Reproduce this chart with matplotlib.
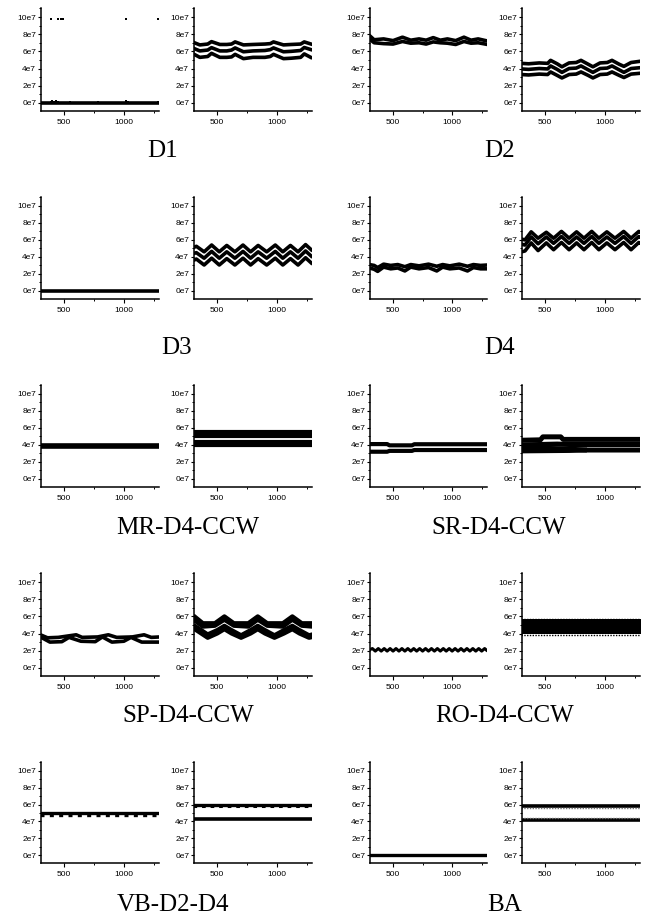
import numpy as np
import matplotlib.pyplot as plt
from matplotlib.ticker import MultipleLocator, FuncFormatter

# values are in units of 1e7 at the listed x positions

# ---- D1 ----
D1_L_X = [300, 1300]
D1_L_Y = [0.0, 0.0]
D1_L_DOT_X = [393, 444, 469, 486, 1020, 1283]
D1_L_DOT_Y = [9.8, 9.8, 9.8, 9.8, 9.8, 9.8]
D1_L_LOW_X = [385, 400, 415, 430, 450, 545, 780, 1020, 1035, 1290]
D1_L_LOW_Y = [0.15, 0.2, 0.15, 0.2, 0.15, 0.12, 0.12, 0.2, 0.15, 0.15]
D1_R_X = [300, 354, 420, 452, 522, 580, 620, 650, 720, 800, 900, 945, 972, 1056, 1120, 1200, 1230, 1298]
D1_R_TOP = [7.05, 6.75, 6.85, 7.13, 6.8, 6.8, 6.85, 7.1, 6.75, 6.8, 6.85, 6.9, 7.1, 6.75, 6.8, 6.85, 7.1, 6.8]
D1_R_MID = [6.36, 6.05, 6.15, 6.43, 6.05, 6.05, 6.15, 6.4, 5.95, 6.05, 6.1, 6.2, 6.4, 5.95, 6.0, 6.1, 6.45, 6.15]
D1_R_BOT = [5.7, 5.3, 5.4, 5.77, 5.3, 5.3, 5.35, 5.65, 5.15, 5.3, 5.3, 5.4, 5.65, 5.15, 5.2, 5.3, 5.7, 5.2]

# ---- D2 ----
D2_L_X = [300, 340, 420, 500, 580, 650, 720, 780, 840, 900, 960, 1030, 1100, 1160, 1220, 1300]
D2_L_TOP = [7.85, 7.35, 7.45, 7.25, 7.65, 7.3, 7.45, 7.3, 7.6, 7.3, 7.45, 7.25, 7.65, 7.3, 7.45, 7.2]
D2_L_BOT = [7.45, 7.0, 6.9, 6.85, 7.15, 6.95, 7.0, 6.85, 7.1, 7.0, 6.95, 6.8, 7.15, 6.95, 7.0, 6.8]
D2_R_X = [300, 360, 450, 520, 545, 600, 640, 700, 760, 800, 860, 900, 960, 1020, 1060, 1120, 1160, 1220, 1300]
D2_R_TOP = [4.6, 4.55, 4.65, 4.6, 4.95, 4.55, 4.2, 4.65, 4.7, 4.95, 4.5, 4.2, 4.65, 4.7, 4.95, 4.5, 4.25, 4.7, 4.85]
D2_R_MID = [3.95, 3.9, 4.0, 3.95, 4.3, 3.9, 3.55, 4.0, 4.05, 4.3, 3.85, 3.55, 4.0, 4.05, 4.3, 3.85, 3.55, 4.0, 4.1]
D2_R_BOT = [3.3, 3.25, 3.35, 3.3, 3.6, 3.2, 2.9, 3.3, 3.35, 3.6, 3.2, 2.9, 3.3, 3.35, 3.6, 3.2, 2.95, 3.35, 3.45]

# ---- D3 ----
D3_L_X = [300, 1300]
D3_L_Y = [0.0, 0.0]
D3_R_X = [300, 325, 390, 453, 517, 580, 648, 716, 780, 843, 915, 987, 1050, 1114, 1178, 1241, 1300]
D3_R_TOP = [5.1, 5.25, 4.6, 5.4, 4.6, 5.35, 4.6, 5.4, 4.6, 5.35, 4.6, 5.4, 4.6, 5.35, 4.6, 5.45, 4.7]
D3_R_MID = [4.4, 4.5, 3.85, 4.65, 3.85, 4.6, 3.85, 4.65, 3.85, 4.6, 3.85, 4.65, 3.85, 4.6, 3.85, 4.7, 3.95]
D3_R_BOT = [3.6, 3.75, 3.05, 3.85, 3.05, 3.8, 3.05, 3.85, 3.05, 3.8, 3.05, 3.85, 3.05, 3.8, 3.05, 3.9, 3.15]

# ---- D4 ----
D4_L_X = [300, 340, 370, 420, 480, 540, 600, 650, 720, 800, 870, 920, 980, 1060, 1130, 1180, 1240, 1300]
D4_L_TOP = [3.1, 3.0, 2.75, 3.15, 3.0, 3.1, 2.85, 3.1, 2.95, 3.15, 2.9, 3.1, 2.95, 3.15, 2.9, 3.1, 3.0, 3.05]
D4_L_BOT = [2.7, 2.55, 2.3, 2.8, 2.6, 2.7, 2.35, 2.8, 2.6, 2.75, 2.35, 2.8, 2.6, 2.7, 2.35, 2.75, 2.6, 2.6]
D4_R_X = [300, 330, 382, 440, 509, 570, 636, 700, 763, 825, 890, 950, 1017, 1085, 1158, 1220, 1285, 1300]
D4_R_TOP = [6.1, 6.0, 6.95, 6.2, 6.9, 6.2, 7.0, 6.2, 6.95, 6.2, 7.0, 6.2, 6.95, 6.2, 7.0, 6.2, 7.0, 6.9]
D4_R_MID = [5.5, 5.4, 6.35, 5.55, 6.35, 5.6, 6.4, 5.6, 6.35, 5.6, 6.4, 5.6, 6.35, 5.6, 6.4, 5.6, 6.4, 6.3]
D4_R_BOT = [4.6, 4.7, 5.65, 4.75, 5.65, 4.85, 5.7, 4.85, 5.65, 4.85, 5.7, 4.85, 5.65, 4.85, 5.7, 4.85, 5.7, 5.6]

# ---- MR-D4-CCW ----
MR_X = [300, 1300]
MR_L_A = [3.97, 3.97]
MR_L_B = [3.77, 3.77]
MR_R_A = [5.55, 5.55]
MR_R_B = [5.1, 5.1]
MR_R_C = [4.35, 4.35]
MR_R_D = [3.95, 3.95]

# ---- SR-D4-CCW ----
SR_L_X = [300, 450, 470, 660, 680, 1300]
SR_L_TOP = [4.1, 4.1, 3.95, 3.95, 4.08, 4.08]
SR_L_BOT = [3.2, 3.2, 3.3, 3.3, 3.4, 3.4]
SR_R_A_X = [300, 460, 480, 630, 650, 1300]
SR_R_A = [4.55, 4.6, 4.95, 4.95, 4.65, 4.65]
SR_R_B_X = [300, 600, 700, 1300]
SR_R_B = [4.0, 4.1, 4.05, 4.05]
SR_R_C_X = [300, 700, 850, 1300]
SR_R_C = [3.3, 3.35, 3.4, 3.4]
SR_R_D_X = [300, 500, 700, 850]
SR_R_D = [3.7, 3.6, 3.5, 3.4]

# ---- SP-D4-CCW ----
SP_L_A_X = [300, 360, 450, 600, 650, 780, 870, 940, 1070, 1170, 1230, 1300]
SP_L_A = [3.85, 3.5, 3.55, 3.85, 3.55, 3.6, 3.85, 3.55, 3.6, 3.85, 3.55, 3.6]
SP_L_B_X = [300, 380, 480, 540, 640, 760, 820, 900, 1000, 1060, 1150, 1300]
SP_L_B = [3.6, 3.0, 3.05, 3.55, 3.1, 3.05, 3.6, 3.0, 3.1, 3.55, 3.0, 3.0]
SP_R_AB_X = [300, 380, 480, 560, 640, 760, 840, 920, 1050, 1130, 1210, 1300]
SP_R_A = [6.1, 5.2, 5.2, 6.0, 5.2, 5.2, 6.0, 5.2, 5.2, 6.0, 5.2, 5.2]
SP_R_B = [5.6, 4.8, 4.9, 5.6, 4.9, 4.8, 5.6, 4.9, 4.8, 5.6, 4.9, 4.8]
SP_R_CD_X = [300, 420, 500, 560, 620, 700, 780, 840, 900, 980, 1060, 1130, 1190, 1270, 1300]
SP_R_C = [5.0, 3.9, 4.4, 4.9, 4.4, 3.8, 4.4, 4.9, 4.4, 3.8, 4.4, 4.9, 4.4, 3.8, 3.9]
SP_R_D = [4.6, 3.5, 4.0, 4.5, 4.0, 3.5, 4.0, 4.5, 4.0, 3.5, 4.0, 4.5, 4.0, 3.5, 3.6]

# ---- RO-D4-CCW ----
RO_L_X = list(range(300, 1301, 25))
RO_L_Y = [2.1, 2.25, 1.95, 2.25, 1.95, 2.25, 1.95, 2.25, 1.95, 2.25, 1.95,
          2.25, 1.95, 2.25, 1.95, 2.25, 1.95, 2.25, 1.95, 2.25, 1.95,
          2.25, 1.95, 2.25, 1.95, 2.25, 1.95, 2.25, 1.95, 2.25, 1.95,
          2.25, 1.95, 2.25, 1.95, 2.25, 1.95, 2.25, 1.95, 2.25, 1.95]
RO_R_X = [300, 1300]
RO_R_LOW = [3.95, 3.95]
RO_R_HIGH = [5.65, 5.65]
RO_R_EDGE_TOP = [5.72, 5.72]
RO_R_EDGE_BOT = [3.88, 3.88]

# ---- VB-D2-D4 ----
VB_X = [300, 1300]
VB_L_SOLID = [4.97, 4.97]
VB_L_DASH = [4.72, 4.72]
VB_R_SOLID_HI = [6.0, 6.0]
VB_R_DASH = [5.8, 5.8]
VB_R_SOLID_LO = [4.33, 4.33]

# ---- BA ----
BA_X = [300, 1300]
BA_L = [0.0, 0.0]
BA_R_HI = [5.8, 5.8]
BA_R_HI_DOT = [5.62, 5.62]
BA_R_LO = [4.18, 4.18]
BA_R_LO_DOT = [4.37, 4.37]

LABELS = ["D1", "D2", "D3", "D4", "MR-D4-CCW", "SR-D4-CCW",
          "SP-D4-CCW", "RO-D4-CCW", "VB-D2-D4", "BA"]

W, H = 649, 917
COLS = [(41, 159), (194, 312), (370, 487), (522, 640)]
ROWS = [(8, 111), (197, 299), (385, 487), (573, 676), (762, 863)]
LABEL_POS = [(163, 151), (500, 151), (177, 348), (500, 348), (188, 528),
             (499, 528), (188, 716), (505, 716), (173, 905), (505, 905)]

fig = plt.figure(figsize=(W / 100, H / 100), dpi=100)


def make_ax(row, col):
    l, r = COLS[col]
    t, b = ROWS[row]
    ax = fig.add_axes([l / W, 1 - b / H, (r - l) / W, (b - t) / H])
    ax.set_xlim(305, 1295)
    ax.set_ylim(-0.95, 11.05)
    for s in ["top", "right"]:
        ax.spines[s].set_visible(False)
    for s in ["left", "bottom"]:
        ax.spines[s].set_linewidth(1.1)
    ax.xaxis.set_major_locator(MultipleLocator(500))
    ax.xaxis.set_minor_locator(MultipleLocator(250))
    ax.yaxis.set_major_locator(MultipleLocator(2))
    ax.yaxis.set_minor_locator(MultipleLocator(1))
    ax.yaxis.set_major_formatter(FuncFormatter(lambda v, p: f"{int(round(v))}e7"))
    ax.tick_params(which="major", direction="out", length=2.5, width=0.8,
                   labelsize=6, pad=1)
    ax.tick_params(which="minor", direction="out", length=1.5, width=0.7)
    ax.tick_params(axis="x", which="major", pad=3, length=3)
    for lab in ax.get_xticklabels() + ax.get_yticklabels():
        lab.set_family(["Liberation Sans", "DejaVu Sans"])
    return ax


def line(ax, x, y, lw=2.6, **kw):
    ax.plot(x, y, color="black", lw=lw, solid_joinstyle="round",
            solid_capstyle="butt", **kw)


axes = [[make_ax(r, c) for c in range(4)] for r in range(5)]

# D1
ax = axes[0][0]
line(ax, D1_L_X, D1_L_Y)
ax.scatter(D1_L_DOT_X, D1_L_DOT_Y, s=2.5, marker="s", color="black", lw=0)
ax.scatter(D1_L_LOW_X, D1_L_LOW_Y, s=2.5, marker="s", color="black", lw=0)
ax = axes[0][1]
for y in (D1_R_TOP, D1_R_MID, D1_R_BOT):
    line(ax, D1_R_X, y)

# D2
ax = axes[0][2]
for y in (D2_L_TOP, D2_L_BOT):
    line(ax, D2_L_X, y)
ax = axes[0][3]
for y in (D2_R_TOP, D2_R_MID, D2_R_BOT):
    line(ax, D2_R_X, y)

# D3
line(axes[1][0], D3_L_X, D3_L_Y)
for y in (D3_R_TOP, D3_R_MID, D3_R_BOT):
    line(axes[1][1], D3_R_X, y)

# D4
for y in (D4_L_TOP, D4_L_BOT):
    line(axes[1][2], D4_L_X, y)
for y in (D4_R_TOP, D4_R_MID, D4_R_BOT):
    line(axes[1][3], D4_R_X, y)

# MR-D4-CCW
for y in (MR_L_A, MR_L_B):
    line(axes[2][0], MR_X, y)
for y in (MR_R_A, MR_R_B, MR_R_C, MR_R_D):
    line(axes[2][1], MR_X, y, lw=3.0)

# SR-D4-CCW
line(axes[2][2], SR_L_X, SR_L_TOP, lw=3.0)
line(axes[2][2], SR_L_X, SR_L_BOT, lw=3.0)
ax = axes[2][3]
line(ax, SR_R_A_X, SR_R_A, lw=3.6)
line(ax, SR_R_B_X, SR_R_B, lw=3.6)
line(ax, SR_R_C_X, SR_R_C, lw=3.6)
line(ax, SR_R_D_X, SR_R_D, lw=3.6)

# SP-D4-CCW
line(axes[3][0], SP_L_A_X, SP_L_A)
line(axes[3][0], SP_L_B_X, SP_L_B)
ax = axes[3][1]
line(ax, SP_R_AB_X, SP_R_A, lw=3.0)
line(ax, SP_R_AB_X, SP_R_B, lw=3.0)
line(ax, SP_R_CD_X, SP_R_C, lw=3.0)
line(ax, SP_R_CD_X, SP_R_D, lw=3.0)

# RO-D4-CCW
line(axes[3][2], RO_L_X, RO_L_Y, lw=2.2)
ax = axes[3][3]
ax.fill_between(RO_R_X, RO_R_LOW, RO_R_HIGH, color="black", lw=0)
ax.plot(RO_R_X, RO_R_EDGE_TOP, color="black", lw=1.0, ls=(0, (1, 1)))
ax.plot(RO_R_X, RO_R_EDGE_BOT, color="black", lw=1.0, ls=(0, (1, 1)))

# VB-D2-D4
ax = axes[4][0]
line(ax, VB_X, VB_L_SOLID, lw=2.4)
ax.plot(VB_X, VB_L_DASH, color="black", lw=2.4, ls=(0, (1.2, 1.6)))
ax = axes[4][1]
line(ax, VB_X, VB_R_SOLID_HI, lw=2.4)
ax.plot(VB_X, VB_R_DASH, color="black", lw=2.2, ls=(0, (1.2, 1.6)))
line(ax, VB_X, VB_R_SOLID_LO, lw=2.6)

# BA
line(axes[4][2], BA_X, BA_L, lw=2.4)
ax = axes[4][3]
line(ax, BA_X, BA_R_HI, lw=2.6)
line(ax, BA_X, BA_R_LO, lw=2.6)
ax.plot(BA_X, BA_R_HI_DOT, color="0.45", lw=1.0, ls=(0, (1, 1)))
ax.plot(BA_X, BA_R_LO_DOT, color="0.45", lw=1.0, ls=(0, (1, 1)))

for text, (x, y) in zip(LABELS, LABEL_POS):
    fig.text(x / W, 1 - y / H, text, ha="center", va="center", fontsize=18,
             family=["Liberation Serif", "DejaVu Serif"])

fig.savefig("out.png", dpi=100)
